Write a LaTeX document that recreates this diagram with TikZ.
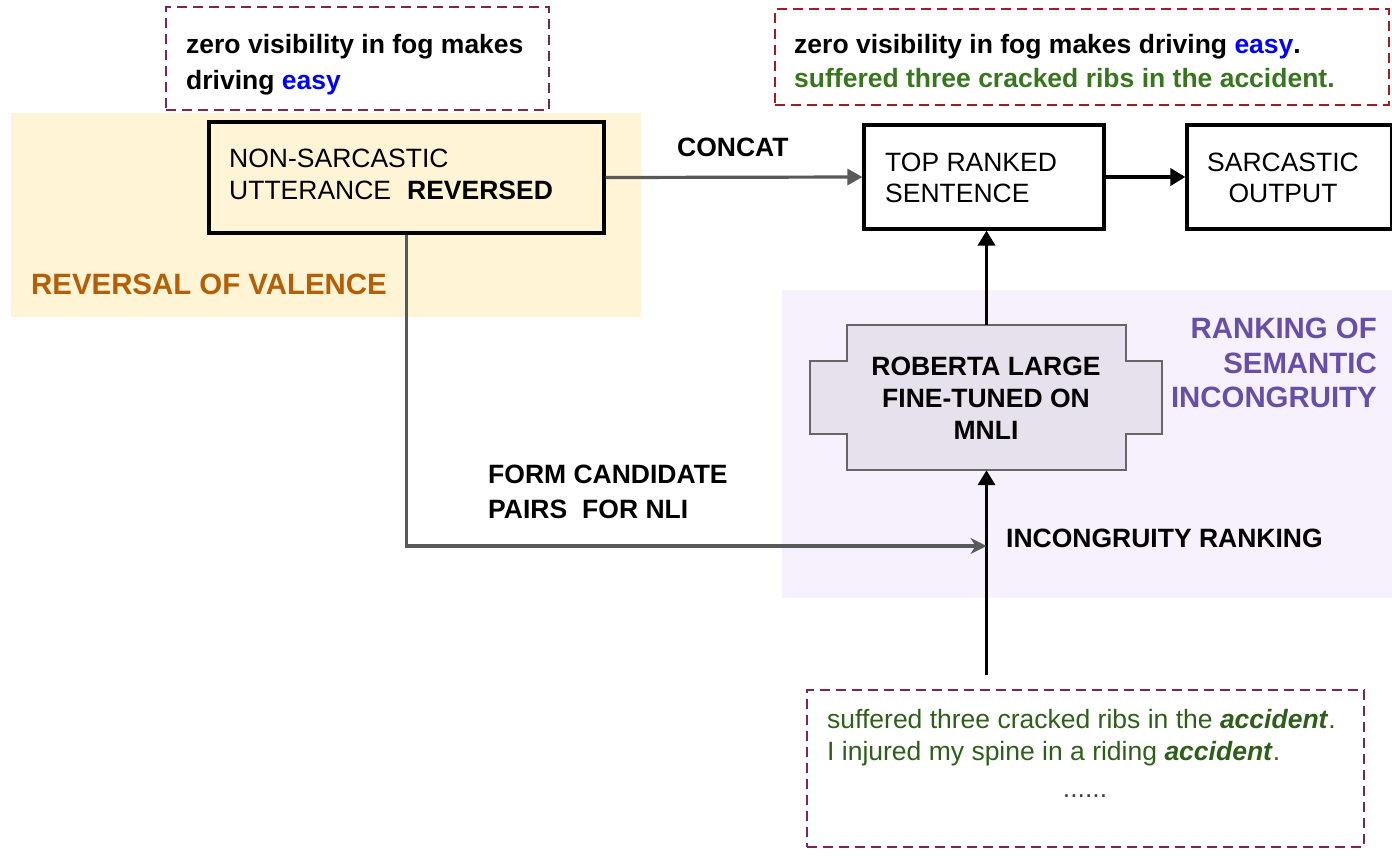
\documentclass[tikz,border=0pt]{standalone}
\usepackage{fontspec}
\setmainfont{Liberation Sans}
\usetikzlibrary{arrows.meta}

\definecolor{valencebg}{HTML}{FFF4D5}
\definecolor{rankbg}{HTML}{F7F1FD}
\definecolor{modelfill}{HTML}{E7E0ED}
\definecolor{modeledge}{HTML}{666666}
\definecolor{valencetxt}{HTML}{B45F06}
\definecolor{ranktxt}{HTML}{674EA7}
\definecolor{lightgreen}{HTML}{38761D}
\definecolor{darkgreen}{HTML}{2F5E1A}
\definecolor{easyblue}{HTML}{0000FF}
\definecolor{linkgray}{HTML}{595959}
\definecolor{framemaroon}{HTML}{7E2553}
\definecolor{framered}{HTML}{A61C1C}

\begin{document}
\begin{tikzpicture}[x=1pt,y=-1pt,
  txt/.style={inner sep=0pt, anchor=base west, font=\fontsize{26.5}{32}\selectfont},
  btxt/.style={txt, font=\fontsize{26.5}{32}\selectfont\bfseries},
  headtxt/.style={inner sep=0pt, font=\fontsize{29.4}{34}\selectfont\bfseries},
  stagebox/.style={draw=black, line width=3.2pt, inner sep=0pt},
  noteframe/.style={draw=#1, line width=1.8pt, dash pattern=on 10pt off 6pt, inner sep=0pt},
  graylink/.style={draw=linkgray, line width=3.2pt, -{Triangle[length=15pt,width=16pt]}},
  blacklink/.style={draw=black, line width=3.6pt, -{Triangle[length=15pt,width=17pt]}},
  pairlink/.style={draw=linkgray, line width=3.2pt, -{Stealth[length=16pt,width=16pt,inset=5pt]}}
]
\useasboundingbox (0,0) rectangle (1392,855);

% shaded regions
\fill[valencebg] (11,113) rectangle (641,317);
\fill[rankbg] (782,290) rectangle (1392,598);

% note frames
\node[noteframe=framemaroon, minimum width=383pt, minimum height=103pt] (note1) at (357.5,58.5) {};
\node[btxt] (note1a) at (186,53) {zero visibility in fog makes};
\node[btxt] (note1b) at (186,89) {driving \textcolor{easyblue}{easy}};

\node[noteframe=framered, minimum width=614pt, minimum height=96pt] (note2) at (1082,57) {};
\node[btxt] (note2a) at (794,53) {zero visibility in fog makes driving \textcolor{easyblue}{easy}.};
\node[btxt, text=lightgreen] (note2b) at (794,87) {suffered three cracked ribs in the accident.};

\node[noteframe=framemaroon, minimum width=557pt, minimum height=157pt] (note3) at (1085.5,768.5) {};
\node[txt, text=darkgreen] (note3a) at (827,728) {suffered three cracked ribs in the \textbf{\textit{accident}}.};
\node[txt, text=darkgreen] (note3b) at (827,760) {I injured my spine in a riding \textbf{\textit{accident}}.};
\node[txt, anchor=base, text=black!75] (note3c) at (1085,797) {......};

% stage boxes
\node[stagebox, minimum width=395pt, minimum height=111pt] (nsu) at (406.5,177.5) {};
\node[txt] (nsu1) at (229,167) {NON-SARCASTIC};
\node[txt] (nsu2) at (229,199) {UTTERANCE\hspace{16pt}\textbf{REVERSED}};

\node[stagebox, minimum width=240pt, minimum height=104pt] (top) at (984,177) {};
\node[txt] (top1) at (885,171) {TOP RANKED};
\node[txt] (top2) at (885,202) {SENTENCE};

\node[stagebox, minimum width=205pt, minimum height=104pt] (out) at (1289.5,177) {};
\node[txt, anchor=base] (out1) at (1283,171) {SARCASTIC};
\node[txt, anchor=base] (out2) at (1283,202) {OUTPUT};

% model block
\fill[modelfill, draw=modeledge, line width=1.8pt]
  (847,325) -- (1126,325) -- (1126,361) -- (1162,361) -- (1162,434) -- (1126,434)
  -- (1126,470) -- (847,470) -- (847,434) -- (810,434) -- (810,361) -- (847,361) -- cycle;
\node[inner sep=0pt, minimum width=279pt, minimum height=145pt] (rob) at (986.5,397.5) {};
\node[btxt, anchor=base] (rob1) at (986,375) {ROBERTA LARGE};
\node[btxt, anchor=base] (rob2) at (986,407) {FINE-TUNED ON};
\node[btxt, anchor=base] (rob3) at (986,439) {MNLI};

% region headings
\node[headtxt, anchor=base west, text=valencetxt] (valence) at (31,294) {REVERSAL OF VALENCE};
\node[headtxt, anchor=base east, text=ranktxt] (rank1) at (1377,338) {RANKING OF};
\node[headtxt, anchor=base east, text=ranktxt] (rank2) at (1377,373) {SEMANTIC};
\node[headtxt, anchor=base east, text=ranktxt] (rank3) at (1377,407) {INCONGRUITY};

% connector labels
\node[btxt] (concat) at (677,156) {CONCAT};
\node[btxt] (form1) at (488,483) {FORM CANDIDATE};
\node[btxt] (form2) at (488,518) {PAIRS\hspace{15pt}FOR NLI};
\node[btxt] (incong) at (1006,547) {INCONGRUITY RANKING};

% connectors
\coordinate (cands) at (986.5,675);
\coordinate (pairs) at (986.5,546);
\draw[graylink] (nsu.east) -- (top.west);
\draw[blacklink] (top.east) -- (out.west);
\draw[blacklink] (rob.north) -- (rob.north |- top.south);
\draw[blacklink] (cands) -- (rob.south);
\draw[pairlink] (nsu.south) |- (pairs);
\end{tikzpicture}
\end{document}
